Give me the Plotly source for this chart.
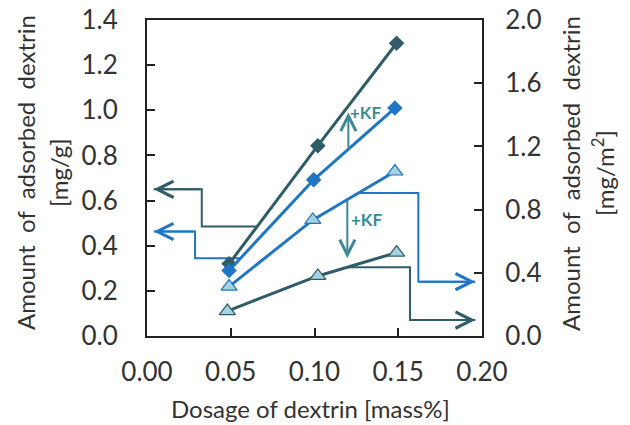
import plotly.graph_objects as go

# Dosage of dextrin [mass%] and adsorbed amounts
dosage_dark_diamond = [0.049, 0.102, 0.149]
ads_dark_diamond = [0.32, 0.843, 1.297]          # mg/g (left axis)

dosage_blue_diamond = [0.049, 0.0995, 0.148]
ads_blue_diamond = [0.29, 0.692, 1.010]          # mg/g (left axis)

dosage_blue_triangle = [0.049, 0.099, 0.148]
ads_blue_triangle = [0.313, 0.735, 1.041]        # mg/m2 (right axis)

dosage_dark_triangle = [0.048, 0.102, 0.149]
ads_dark_triangle = [0.158, 0.380, 0.528]        # mg/m2 (right axis)

x_ticks = [0.00, 0.05, 0.10, 0.15, 0.20]
y_left_ticks = [0.0, 0.2, 0.4, 0.6, 0.8, 1.0, 1.2, 1.4]
y_right_ticks = [0.0, 0.4, 0.8, 1.2, 1.6, 2.0]

DARK = "#2f5c66"
BLUE = "#1f76c2"
TRI_FILL = "#a6d2df"
TEAL = "#3b8a93"
AXIS = "#222222"
TEXT = "#333333"
FONT = "Lato"

W, H = 630, 425
ML, MR, MT, MB = 147, 148, 20, 89


def px_x(px):
    return (px - ML) / (W - ML - MR)


def px_y(py):
    return 1 - (py - MT) / (H - MT - MB)


fig = go.Figure()

# step-shaped pointers linking each series to its axis
pointer_paths = [
    # (xs, ys, yaxis, colour)
    ([0.0655, 0.0327, 0.0327, 0.004], [0.485, 0.485, 0.65, 0.65], "y", DARK),
    ([0.0559, 0.0287, 0.0287, 0.004], [0.345, 0.345, 0.463, 0.463], "y", BLUE),
    ([0.1262, 0.162, 0.162, 0.196], [0.905, 0.905, 0.344, 0.344], "y2", BLUE),
    ([0.1195, 0.157, 0.157, 0.196], [0.435, 0.435, 0.101, 0.101], "y2", DARK),
]
for xs, ys, ax, col in pointer_paths:
    fig.add_trace(go.Scatter(x=xs, y=ys, yaxis=ax, mode="lines",
                             line=dict(color=col, width=2),
                             hoverinfo="skip", showlegend=False))

fig.add_trace(go.Scatter(
    x=dosage_dark_diamond, y=ads_dark_diamond, mode="lines+markers",
    line=dict(color=DARK, width=3),
    marker=dict(symbol="diamond", size=12, color=DARK),
    showlegend=False))
fig.add_trace(go.Scatter(
    x=dosage_blue_diamond, y=ads_blue_diamond, mode="lines+markers",
    line=dict(color=BLUE, width=3),
    marker=dict(symbol="diamond", size=12, color=BLUE),
    showlegend=False))
fig.add_trace(go.Scatter(
    x=dosage_blue_triangle, y=ads_blue_triangle, yaxis="y2", mode="lines+markers",
    line=dict(color=BLUE, width=3),
    marker=dict(symbol="triangle-up", size=14, color=TRI_FILL,
                line=dict(color=BLUE, width=1.2)),
    showlegend=False))
fig.add_trace(go.Scatter(
    x=dosage_dark_triangle, y=ads_dark_triangle, yaxis="y2", mode="lines+markers",
    line=dict(color=DARK, width=3),
    marker=dict(symbol="triangle-up", size=14, color=TRI_FILL,
                line=dict(color=DARK, width=1.2)),
    showlegend=False))

annotations = []

# arrowheads at the ends of the pointers
for xs, ys, ax, col in pointer_paths:
    annotations.append(dict(
        x=xs[-1], y=ys[-1], xref="x", yref=ax,
        ax=xs[-2], ay=ys[-2], axref="x", ayref=ax,
        showarrow=True, arrowhead=5, arrowsize=1.6, arrowwidth=2,
        arrowcolor=col, text="", standoff=0))

# +KF arrows
annotations.append(dict(
    x=0.1202, y=0.99, xref="x", yref="y", ax=0.1202, ay=0.827,
    axref="x", ayref="y", showarrow=True, arrowhead=5, arrowsize=1.5,
    arrowwidth=2, arrowcolor=TEAL, text=""))
annotations.append(dict(
    x=0.1196, y=0.345, xref="x", yref="y", ax=0.1196, ay=0.605,
    axref="x", ayref="y", showarrow=True, arrowhead=5, arrowsize=1.5,
    arrowwidth=2, arrowcolor=TEAL, text=""))
for kx, ky in [(0.1307, 0.991), (0.1316, 0.515)]:
    annotations.append(dict(
        x=kx, y=ky, xref="x", yref="y", text="<b>+KF</b>", showarrow=False,
        font=dict(family=FONT, size=17, color=TEAL)))

# axis titles
sp = "\u00a0\u00a0"
title_font = dict(family=FONT, size=24, color=TEXT)
title_specs = [
    (25, 173, f"Amount{sp}of{sp}adsorbed{sp}dextrin", -90),
    (58, 172, "[mg/g]", -90),
    (571, 174, f"Amount{sp}of{sp}adsorbed{sp}dextrin", -90),
    (603, 173, "[mg/m<sup>2</sup>]", -90),
    (310, 409, "Dosage of dextrin [mass%]", 0),
]
for tx, ty, txt, ang in title_specs:
    annotations.append(dict(
        x=px_x(tx), y=px_y(ty), xref="paper", yref="paper",
        xanchor="center", yanchor="middle", text=txt, textangle=ang,
        showarrow=False, font=title_font))

tick_font = dict(family=FONT, size=26, color=TEXT)
axis_common = dict(ticks="inside", ticklen=8, tickwidth=2, tickcolor=AXIS,
                   showline=True, linecolor=AXIS, linewidth=2,
                   showgrid=False, zeroline=False, tickfont=tick_font,
                   automargin=False)
fig.update_layout(
    template="none",
    width=W, height=H,
    margin=dict(l=ML, r=MR, t=MT, b=MB, pad=0, autoexpand=False),
    paper_bgcolor="white", plot_bgcolor="white",
    showlegend=False,
    annotations=annotations,
    xaxis=dict(range=[0, 0.2], tickvals=x_ticks, tickformat=".2f",
               mirror=True, ticklabelstandoff=12, **axis_common),
    yaxis=dict(range=[0, 1.4], tickvals=y_left_ticks, tickformat=".1f",
               ticklabelstandoff=22, **axis_common),
    yaxis2=dict(range=[0, 2.0], tickvals=y_right_ticks, tickformat=".1f",
                overlaying="y", side="right", ticklabelstandoff=16,
                **axis_common),
)

fig.write_html("out.html")
